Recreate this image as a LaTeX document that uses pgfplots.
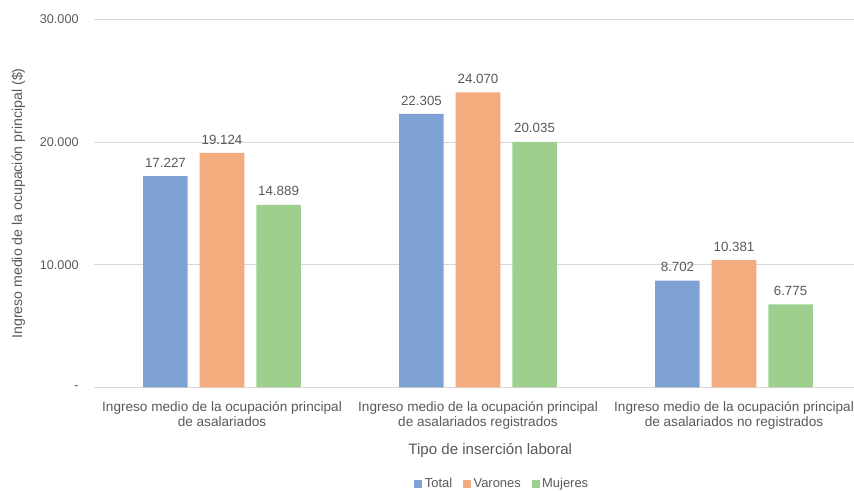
\documentclass[border=0pt]{standalone}
\usepackage{pgfplots}
\pgfplotsset{compat=1.18}
\usepackage{fontspec}
\setmainfont{Liberation Sans}
\definecolor{cTotal}{RGB}{127,162,213}
\definecolor{cVar}{RGB}{244,171,125}
\definecolor{cMuj}{RGB}{157,208,142}
\definecolor{txt}{RGB}{89,89,89}
\definecolor{gridc}{RGB}{217,217,217}
\begin{document}
\begin{tikzpicture}
\path[use as bounding box] (-70.5pt,-77pt) rectangle (570pt,290.5pt);
\begin{axis}[
  at={(0,0)}, anchor=south west,
  scale only axis, width=576pt, height=275.8pt,
  ybar=9pt, bar width=33.4pt,
  xmin=-0.5, xmax=2.5, ymin=0, ymax=30000,
  xtick={0,1,2},
  xticklabels={{Ingreso medio de la ocupación principal\\de asalariados},{Ingreso medio de la ocupación principal\\de asalariados registrados},{Ingreso medio de la ocupación principal\\de asalariados no registrados}},
  x tick label style={align=center, font=\fontsize{10.2}{11.5}\selectfont, text=txt, yshift=-7pt},
  ytick={0,10000,20000,30000},
  yticklabels={-,10.000,20.000,30.000},
  scaled y ticks=false,
  y tick label style={font=\fontsize{9.5}{11}\selectfont, text=txt, xshift=-8pt},
  major tick length=0pt,
  xtick style={draw=none}, ytick style={draw=none},
  axis x line*=bottom, axis y line*=left,
  x axis line style={gridc, line width=0.8pt, -},
  y axis line style={draw=none},
  ymajorgrids, xmajorgrids=false, grid style={gridc, line width=0.8pt},
  xlabel={Tipo de inserción laboral},
  xlabel style={at={(axis description cs:0.516,-0.172)}, anchor=center, font=\fontsize{11.3}{13}\selectfont, text=txt},
  ylabel={Ingreso medio de la ocupación principal (\$)},
  ylabel style={at={(axis description cs:-0.0985,0.5)}, anchor=center, font=\fontsize{10.6}{12}\selectfont, text=txt},
  nodes near coords,
  nodes near coords style={font=\fontsize{10}{11}\selectfont, text=txt, yshift=3pt},
  /pgf/number format/.cd, 1000 sep={.}, fixed, assume math mode=true, /pgfplots/.cd,
  legend style={at={(axis description cs:0.532,-0.262)}, anchor=center, legend columns=-1, draw=none, font=\fontsize{9.7}{11}\selectfont, text=txt, /tikz/every even column/.append style={column sep=6pt}},
  legend image code/.code={\fill[#1] (0pt,-3pt) rectangle (6pt,3pt);},
  clip=false,
]
\addplot[fill=cTotal, draw=none] coordinates {(0,17227) (1,22305) (2,8702)};
\addplot[fill=cVar, draw=none] coordinates {(0,19124) (1,24070) (2,10381)};
\addplot[fill=cMuj, draw=none] coordinates {(0,14889) (1,20035) (2,6775)};
\legend{Total,Varones,Mujeres}
\end{axis}
\end{tikzpicture}
\end{document}
